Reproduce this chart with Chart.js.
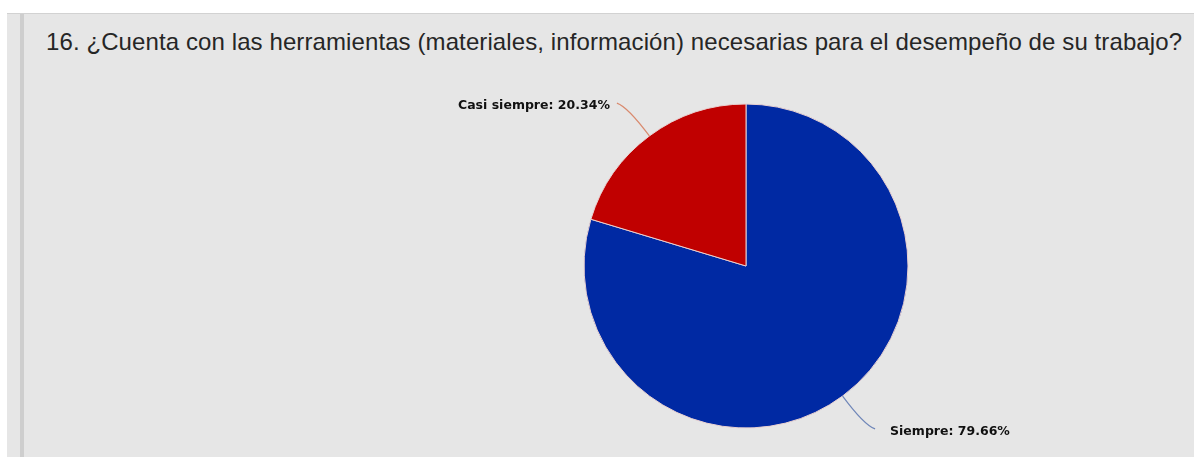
<!DOCTYPE html>
<html lang="es">
<head>
  <meta charset="UTF-8">
  <title>Herramientas necesarias</title>
  <script src="https://cdn.jsdelivr.net/npm/chart.js"></script>
  <style>
    body {
      margin: 0;
      padding: 0;
      background: #ffffff;
      width: 1194px;
      height: 457px;
      overflow: hidden;
      position: relative;
    }
    #panel {
      position: absolute;
      left: 7px;
      top: 13px;
      width: 1187px;
      height: 444px;
      background: #e6e6e6;
      border-top: 1px solid #d2d2d2;
    }
    #edge {
      position: absolute;
      left: 20px;
      top: 14px;
      width: 4px;
      height: 443px;
      background: #cecece;
    }
    #title {
      position: absolute;
      left: 46px;
      top: 28px;
      margin: 0;
      font-family: Arial, 'Liberation Sans', sans-serif;
      font-size: 24px;
      font-weight: normal;
      color: #262626;
      white-space: nowrap;
      letter-spacing: 0.1px;
    }
    #wrap {
      position: absolute;
      left: 0;
      top: 0;
      width: 1194px;
      height: 457px;
    }
  </style>
</head>
<body>
  <div id="panel"></div>
  <div id="edge"></div>
  <h1 id="title">16. ¿Cuenta con las herramientas (materiales, información) necesarias para el desempeño de su trabajo?</h1>
  <div id="wrap">
    <canvas id="pieChart"></canvas>
  </div>
  <script>
    const categories = ['Siempre', 'Casi siempre'];
    const values = [79.66, 20.34];
    const sliceColors = ['#0029a3', '#c00000'];
    const leaderColors = ['#6f86b8', '#d98a6e'];

    // etiquetas externas con linea guia
    const outsideLabels = {
      id: 'outsideLabels',
      afterDatasetsDraw(chart) {
        const ctx = chart.ctx;
        const meta = chart.getDatasetMeta(0);
        ctx.save();
        ctx.font = 'bold 12.5px "DejaVu Sans", sans-serif';
        ctx.textBaseline = 'middle';
        meta.data.forEach((arc, i) => {
          const a = (arc.startAngle + arc.endAngle) / 2;
          const r = arc.outerRadius;
          const cos = Math.cos(a), sin = Math.sin(a);
          const side = cos >= 0 ? 1 : -1;
          const vert = sin >= 0 ? 1 : -1;
          const x0 = arc.x + cos * r, y0 = arc.y + sin * r;
          const x1 = arc.x + cos * (r + 36), y1 = arc.y + sin * (r + 36);
          const x2 = x1 + side * 11, y2 = y1 + vert * 4;
          ctx.strokeStyle = leaderColors[i];
          ctx.lineWidth = 1.2;
          ctx.beginPath();
          ctx.moveTo(x0, y0);
          ctx.quadraticCurveTo(x1, y1, x2, y2);
          ctx.stroke();
          const text = categories[i] + ': ' + values[i].toFixed(2) + '%';
          ctx.fillStyle = '#111111';
          ctx.textAlign = side > 0 ? 'left' : 'right';
          const gap = side > 0 ? 15 : 7;
          ctx.fillText(text, x2 + side * gap, y2 + 3);
        });
        ctx.restore();
      }
    };

    new Chart(document.getElementById('pieChart'), {
      type: 'pie',
      data: {
        labels: categories,
        datasets: [{
          data: values,
          backgroundColor: sliceColors,
          borderColor: '#e8d0d0',
          borderWidth: 1,
          radius: 162
        }]
      },
      options: {
        responsive: true,
        maintainAspectRatio: false,
        animation: false,
        layout: {
          padding: { left: 298, right: 0, top: 75, bottom: 0 }
        },
        plugins: {
          legend: { display: false },
          tooltip: { enabled: false }
        }
      },
      plugins: [outsideLabels]
    });
  </script>
</body>
</html>
